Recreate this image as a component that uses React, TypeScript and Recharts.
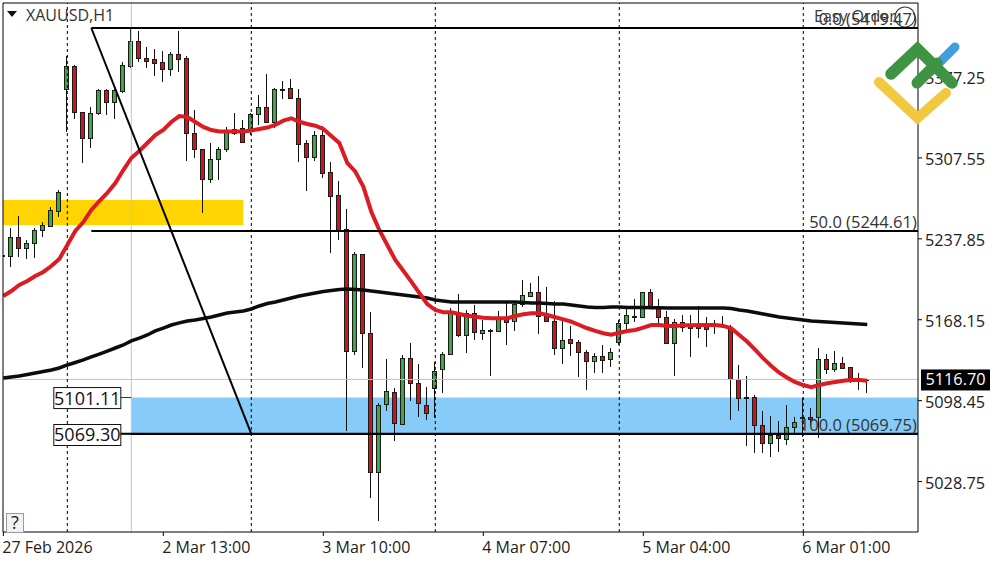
import React from "react";
import {
  ComposedChart,
  Bar,
  Line,
  XAxis,
  YAxis,
  ReferenceArea,
  ReferenceLine,
  ReferenceDot,
} from "recharts";

const FONT = "'Open Sans', sans-serif";
const INK = "#222";

const opens = [
  5223.1, 5223.1, 5239.4, 5230.0, 5234.3, 5245.5, 5248.9, 5261.8, 5366.9, 5386.7,
  5347.1, 5324.7, 5346.2, 5366.0, 5355.7, 5365.2, 5386.7, 5408.2, 5393.6, 5392.7,
  5390.2, 5384.1, 5397.1, 5393.6, 5329.0, 5315.2, 5289.4, 5306.6, 5315.2, 5332.5,
  5333.3, 5332.5, 5345.4, 5351.4, 5338.5, 5366.5, 5367.8, 5359.1, 5320.4, 5308.3,
  5327.3, 5295.4, 5275.6, 5246.3, 5141.2, 5224.8, 5156.7, 5037.0, 5095.6, 5105.9,
  5078.4, 5135.2, 5113.7, 5094.7, 5109.4, 5125.7, 5138.6, 5174.0, 5155.0, 5174.0,
  5156.7, 5159.3, 5158.5, 5168.8, 5167.1, 5181.7, 5188.6, 5192.1, 5171.4, 5167.1,
  5143.8, 5151.6, 5149.0, 5140.4, 5132.6, 5136.9, 5134.3, 5149.0, 5165.4, 5171.6,
  5170.5, 5192.1, 5178.3, 5170.5, 5148.1, 5166.2, 5164.5, 5164.5, 5162.8, 5163.8,
  5163.4, 5161.9, 5117.1, 5100.8, 5101.6, 5077.5, 5062.0, 5068.9, 5065.4, 5075.8,
  5083.5, 5084.4, 5084.4, 5134.3, 5125.7, 5130.9, 5127.5, 5116.3, 5116.5,
];
const highs = [
  5236.0, 5247.2, 5257.5, 5236.8, 5247.2, 5252.3, 5265.3, 5279.9, 5395.3, 5387.6,
  5347.1, 5351.4, 5366.9, 5366.9, 5366.9, 5390.2, 5419.4, 5416.9, 5403.1, 5401.3,
  5399.6, 5398.8, 5416.9, 5395.3, 5348.8, 5315.2, 5320.4, 5316.9, 5334.2, 5346.2,
  5340.2, 5346.2, 5361.7, 5379.8, 5367.8, 5373.8, 5375.5, 5366.9, 5323.0, 5330.7,
  5335.0, 5304.0, 5287.7, 5263.6, 5226.5, 5224.8, 5174.8, 5096.4, 5134.3, 5109.4,
  5137.8, 5148.1, 5130.0, 5110.2, 5131.8, 5140.4, 5178.3, 5190.3, 5176.5, 5180.9,
  5168.0, 5160.2, 5175.7, 5182.6, 5184.3, 5202.4, 5199.8, 5205.8, 5196.4, 5184.3,
  5168.0, 5162.8, 5150.7, 5142.1, 5139.5, 5146.4, 5143.8, 5168.0, 5177.4, 5186.0,
  5192.1, 5194.6, 5186.0, 5175.7, 5168.8, 5172.2, 5172.2, 5180.0, 5170.5, 5168.0,
  5171.4, 5163.6, 5129.2, 5119.7, 5103.4, 5089.6, 5085.2, 5080.9, 5094.7, 5084.4,
  5100.8, 5092.1, 5143.8, 5138.6, 5141.2, 5136.1, 5127.5, 5122.3, 5116.7,
];
const lows = [
  5213.6, 5213.6, 5222.2, 5220.5, 5221.3, 5239.4, 5248.0, 5256.7, 5329.9, 5341.1,
  5303.2, 5316.1, 5344.5, 5344.5, 5341.1, 5363.5, 5385.0, 5390.2, 5385.0, 5378.1,
  5372.9, 5378.1, 5381.6, 5304.9, 5307.5, 5260.1, 5285.9, 5288.5, 5312.6, 5327.3,
  5321.2, 5327.3, 5335.9, 5337.6, 5333.3, 5358.3, 5358.3, 5304.0, 5279.0, 5304.9,
  5290.2, 5225.6, 5236.8, 5072.3, 5137.8, 5126.6, 5014.6, 4994.8, 5089.6, 5063.7,
  5077.5, 5098.2, 5084.4, 5081.8, 5083.5, 5105.1, 5137.8, 5153.3, 5139.5, 5150.7,
  5150.7, 5119.7, 5157.6, 5146.4, 5158.5, 5179.1, 5187.7, 5155.9, 5166.2, 5137.8,
  5130.0, 5136.9, 5118.9, 5107.7, 5122.3, 5122.3, 5127.5, 5146.4, 5159.3, 5166.2,
  5170.5, 5179.1, 5163.6, 5147.3, 5119.7, 5157.6, 5136.1, 5152.4, 5144.7, 5155.9,
  5161.0, 5081.8, 5089.6, 5059.4, 5053.4, 5053.4, 5049.9, 5054.2, 5060.3, 5070.6,
  5067.2, 5077.5, 5066.3, 5121.4, 5123.2, 5125.7, 5113.7, 5107.7, 5105.1,
];
const closes = [
  5223.9, 5239.4, 5230.0, 5234.3, 5245.5, 5249.8, 5262.7, 5278.2, 5386.7, 5347.1,
  5324.7, 5346.2, 5366.0, 5355.7, 5366.0, 5387.6, 5408.2, 5393.6, 5391.0, 5389.3,
  5384.1, 5397.1, 5392.7, 5329.0, 5315.2, 5289.4, 5306.6, 5315.2, 5331.6, 5329.0,
  5321.2, 5345.4, 5351.4, 5338.5, 5366.9, 5367.3, 5359.1, 5319.5, 5308.3, 5327.3,
  5294.6, 5274.7, 5244.6, 5141.2, 5224.8, 5156.7, 5037.0, 5094.7, 5106.8, 5079.2,
  5135.2, 5113.7, 5096.4, 5087.8, 5124.0, 5138.6, 5174.0, 5155.0, 5174.0, 5157.6,
  5159.3, 5159.5, 5168.8, 5166.2, 5181.7, 5189.5, 5192.1, 5171.4, 5167.1, 5143.8,
  5150.7, 5148.1, 5140.4, 5132.6, 5136.9, 5133.5, 5140.4, 5165.4, 5172.2, 5171.2,
  5192.1, 5179.1, 5170.5, 5148.1, 5166.2, 5161.9, 5161.0, 5161.0, 5160.2, 5163.4,
  5163.8, 5117.1, 5100.8, 5101.6, 5077.5, 5062.0, 5068.9, 5066.3, 5075.8, 5080.1,
  5084.4, 5082.6, 5134.3, 5125.7, 5130.9, 5126.6, 5116.3, 5116.5, 5116.7,
];
const redMa = [
  5188.6, 5192.9, 5198.1, 5201.5, 5205.8, 5209.3, 5214.4, 5220.5, 5232.5, 5244.6,
  5252.3, 5262.7, 5270.4, 5277.3, 5285.9, 5297.1, 5307.5, 5313.5, 5320.4, 5327.3,
  5331.6, 5338.5, 5343.6, 5342.8, 5338.5, 5334.2, 5331.6, 5330.3, 5330.3, 5330.3,
  5330.3, 5331.2, 5332.5, 5333.7, 5335.9, 5339.6, 5341.7, 5338.7, 5336.8, 5335.3,
  5332.5, 5326.4, 5320.4, 5303.2, 5295.7, 5282.8, 5261.2, 5245.5, 5232.5, 5219.6,
  5210.4, 5201.0, 5191.2, 5181.7, 5176.5, 5174.6, 5174.6, 5173.1, 5171.6, 5170.8,
  5169.9, 5169.4, 5169.4, 5169.4, 5171.4, 5172.8, 5173.7, 5173.7, 5172.2, 5170.3,
  5168.5, 5166.5, 5163.6, 5160.8, 5158.5, 5156.5, 5155.3, 5157.0, 5158.5, 5159.3,
  5161.3, 5163.6, 5163.6, 5162.8, 5162.8, 5163.4, 5163.4, 5163.6, 5163.6, 5163.6,
  5162.8, 5160.8, 5155.0, 5149.2, 5142.1, 5134.9, 5128.3, 5122.5, 5118.2, 5114.3,
  5111.9, 5110.0, 5111.9, 5113.4, 5114.5, 5115.6, 5116.3, 5116.3, 5115.6,
];
const blackMa = [
  5118.0, 5118.9, 5119.7, 5121.0, 5122.3, 5123.6, 5124.9, 5126.6, 5129.2, 5131.3,
  5133.5, 5136.1, 5138.6, 5141.2, 5143.8, 5146.4, 5149.9, 5152.4, 5155.0, 5158.5,
  5161.0, 5163.6, 5165.4, 5167.1, 5168.0, 5169.2, 5170.5, 5172.2, 5174.0, 5174.8,
  5175.7, 5177.4, 5180.0, 5182.1, 5183.4, 5185.2, 5186.9, 5188.6, 5189.9, 5191.2,
  5192.5, 5193.3, 5194.2, 5194.6, 5194.2, 5193.8, 5192.9, 5192.1, 5191.2, 5190.3,
  5189.5, 5188.6, 5187.7, 5186.9, 5185.2, 5184.3, 5183.4, 5183.4, 5183.4, 5183.4,
  5183.4, 5183.4, 5183.4, 5183.4, 5183.4, 5183.0, 5182.6, 5182.6, 5182.1, 5181.7,
  5181.7, 5180.9, 5180.0, 5179.1, 5178.7, 5178.7, 5179.1, 5179.1, 5178.7, 5178.7,
  5178.7, 5178.5, 5178.5, 5178.3, 5178.3, 5178.3, 5178.3, 5178.3, 5178.3, 5178.3,
  5178.3, 5177.8, 5176.5, 5175.7, 5174.4, 5173.1, 5171.8, 5170.5, 5169.7, 5168.8,
  5168.0, 5167.1, 5166.7, 5166.2, 5165.8, 5165.4, 5164.9, 5164.5, 5164.1,
];

const priceTicks = [5028.75, 5098.45, 5168.15, 5237.85, 5307.55, 5377.25];
const timeTicks = [0, 20, 40, 60, 80, 100];
const timeLabels = ["27 Feb 2026", "2 Mar 13:00", "3 Mar 10:00", "4 Mar 07:00", "5 Mar 04:00", "6 Mar 01:00"];
const daySeparators = [8, 31, 54, 77, 100];

const fibLevels = [
  { price: 5419.47, label: "0.0 (5419.47)" },
  { price: 5244.61, label: "50.0 (5244.61)" },
  { price: 5069.75, label: "100.0 (5069.75)" },
];
const FIB_START = 11;
const FIB_END = 31;
const CROSSHAIR_BAR = 16;
const LAST_PRICE = 5116.7;
const ZONE_HIGH = 5101.11;
const ZONE_LOW = 5069.3;
const YELLOW_HIGH = 5271.3;
const YELLOW_LOW = 5249.8;
const YELLOW_END = 30;

const X_MIN = -0.04;
const X_MAX = 114.34;
const Y_MIN = 4985.3;
const Y_MAX = 5441;

const data = opens.map((open, i) => ({
  i,
  open,
  high: highs[i],
  low: lows[i],
  close: closes[i],
  range: [lows[i], highs[i]],
  redMa: redMa[i],
  blackMa: blackMa[i],
}));

function Candle(props: any) {
  const { x, y, width, height, payload } = props;
  const { open, high, low, close } = payload;
  const perUnit = height / (high - low || 1);
  const cx = Math.floor(x + width / 2) + 0.5;
  const yOf = (p: number) => y + (high - p) * perUnit;
  const top = Math.round(yOf(Math.max(open, close))) + 0.5;
  const bottom = Math.max(Math.round(yOf(Math.min(open, close))) + 0.5, top + 1);
  return (
    <g>
      <line x1={cx} x2={cx} y1={y} y2={y + height} stroke="#111" strokeWidth={1} />
      <rect
        x={cx - 2}
        y={top}
        width={4}
        height={bottom - top}
        fill={close >= open ? "#3fa646" : "#c8161d"}
        stroke="#1c1c1c"
        strokeWidth={1}
      />
    </g>
  );
}

function TimeTick(props: any) {
  const { x, y, payload } = props;
  return (
    <g>
      <line x1={x} x2={x} y1={y - 8} y2={y - 4} stroke="#000" />
      <text x={x - 1} y={y + 13} textAnchor="start" fontFamily={FONT} fontSize={16} fill={INK}>
        {timeLabels[timeTicks.indexOf(payload.value)]}
      </text>
    </g>
  );
}

function PriceTick(props: any) {
  const { x, y, payload } = props;
  return (
    <text x={x + 1} y={y + 7} textAnchor="start" fontFamily={FONT} fontSize={16.3} fill={INK}>
      {payload.value.toFixed(2)}
    </text>
  );
}

function fibLabel(text: string) {
  return (props: any) => (
    <text
      x={props.cx}
      y={props.cy - 3}
      textAnchor="end"
      fontFamily={FONT}
      fontSize={16.5}
      fill="#333"
    >
      {text}
    </text>
  );
}

function lastPriceTag(props: any) {
  return (
    <g>
      <rect x={props.cx + 3} y={props.cy - 10} width={69} height={21} fill="#000" />
      <text x={props.cx + 37.5} y={props.cy + 6} textAnchor="middle" fontFamily={FONT} fontSize={16.3} fill="#fff">
        {LAST_PRICE.toFixed(2)}
      </text>
    </g>
  );
}

function zoneBox(price: number) {
  return (props: any) => (
    <g>
      <line x1={props.cx + 33} x2={props.cx + 44} y1={props.cy} y2={props.cy} stroke="#333" />
      <rect x={props.cx - 33.5} y={props.cy - 10} width={67} height={21} fill="#fff" stroke="#111" />
      <text x={props.cx} y={props.cy + 7} textAnchor="middle" fontFamily={FONT} fontSize={18} fill="#111">
        {price.toFixed(2)}
      </text>
    </g>
  );
}

function Overlay() {
  return (
    <svg width={1000} height={562} style={{ position: "absolute", left: 0, top: 0, pointerEvents: "none" }}>
      <polygon points="7,11 17,11 12,17" fill="#111" />
      <text x={26} y={21} fontFamily={FONT} fontSize={16} fill="#333">XAUUSD,H1</text>
      <text x={814} y={22} fontFamily={FONT} fontSize={16} fill="#3a3a3a">Easy Order</text>
      <circle cx={905} cy={17} r={10} fill="none" stroke="#3a3a3a" strokeWidth={1.2} />
      <rect x={6.5} y={513.5} width={17} height={19} fill="#f2f2f2" stroke="#9a9a9a" />
      <text x={15} y={529} textAnchor="middle" fontFamily={FONT} fontSize={18} fill="#222">?</text>
      <g fill="none" strokeLinecap="round" strokeLinejoin="miter">
        <path d="M955 47 L930 72" stroke="#3f9fe0" strokeWidth={9} />
        <path d="M879 82 L917.5 118 L946 93" stroke="#f2c840" strokeWidth={10} />
        <path d="M891 74 L917.5 49 L952 83" stroke="#3f9444" strokeWidth={11.5} />
        <path d="M917 83 L937 63" stroke="#3f9444" strokeWidth={11} />
      </g>
    </svg>
  );
}

export default function App() {
  return (
    <div style={{ position: "absolute", left: 0, top: 0, width: 1000, height: 562, background: "#fff" }}>
      <ComposedChart
        width={1000}
        height={562}
        data={data}
        margin={{ top: 3, right: 0, bottom: 0, left: 3 }}
      >
        <XAxis
          dataKey="i"
          type="number"
          domain={[X_MIN, X_MAX]}
          allowDataOverflow
          ticks={timeTicks}
          tick={<TimeTick />}
          tickLine={false}
          axisLine={{ stroke: "#000" }}
          height={30}
          interval={0}
        />
        <YAxis
          orientation="right"
          type="number"
          domain={[Y_MIN, Y_MAX]}
          allowDataOverflow
          ticks={priceTicks}
          tick={<PriceTick />}
          tickSize={4}
          tickLine={{ stroke: "#000" }}
          axisLine={{ stroke: "#000" }}
          width={82}
          interval={0}
        />
        <ReferenceArea
          x1={X_MIN}
          x2={YELLOW_END}
          y1={YELLOW_LOW}
          y2={YELLOW_HIGH}
          fill="#ffd400"
          fillOpacity={1}
          stroke="none"
        />
        <ReferenceArea
          x1={CROSSHAIR_BAR}
          x2={X_MAX}
          y1={ZONE_LOW}
          y2={ZONE_HIGH}
          fill="#87cbf8"
          fillOpacity={1}
          stroke="none"
        />
        <ReferenceLine x={CROSSHAIR_BAR} stroke="#c4c4c4" />
        <ReferenceLine y={LAST_PRICE} stroke="#c4c4c4" />
        {daySeparators.map((k) => (
          <ReferenceLine key={k} x={k} stroke="#000" strokeDasharray="3 3" />
        ))}
        <Bar
          dataKey="range"
          barSize={5}
          shape={<Candle />}
          isAnimationActive={false}
        />
        <Line dataKey="blackMa" type="linear" stroke="#0c0c0c" strokeWidth={3.5} dot={false} isAnimationActive={false} />
        <Line dataKey="redMa" type="linear" stroke="#dc1c22" strokeWidth={4} dot={false} isAnimationActive={false} />
        {fibLevels.map((f) => (
          <ReferenceLine
            key={f.label}
            segment={[{ x: FIB_START, y: f.price }, { x: X_MAX, y: f.price }]}
            stroke="#000"
            strokeWidth={2.2}
          />
        ))}
        <ReferenceLine
          segment={[{ x: FIB_START, y: fibLevels[0].price }, { x: FIB_END, y: fibLevels[2].price }]}
          stroke="#000"
          strokeWidth={2}
        />
        {fibLevels.map((f) => (
          <ReferenceDot key={f.label} x={X_MAX - 0.15} y={f.price} ifOverflow="visible" shape={fibLabel(f.label)} />
        ))}
        <ReferenceDot x={10.5} y={ZONE_HIGH} ifOverflow="visible" shape={zoneBox(ZONE_HIGH)} />
        <ReferenceDot x={10.5} y={ZONE_LOW} ifOverflow="visible" shape={zoneBox(ZONE_LOW)} />
        <ReferenceDot x={X_MAX} y={LAST_PRICE} ifOverflow="visible" shape={lastPriceTag} />
        <ReferenceLine y={Y_MAX} stroke="#000" ifOverflow="visible" />
        <ReferenceLine x={X_MIN} stroke="#000" ifOverflow="visible" />
      </ComposedChart>
      <Overlay />
    </div>
  );
}
